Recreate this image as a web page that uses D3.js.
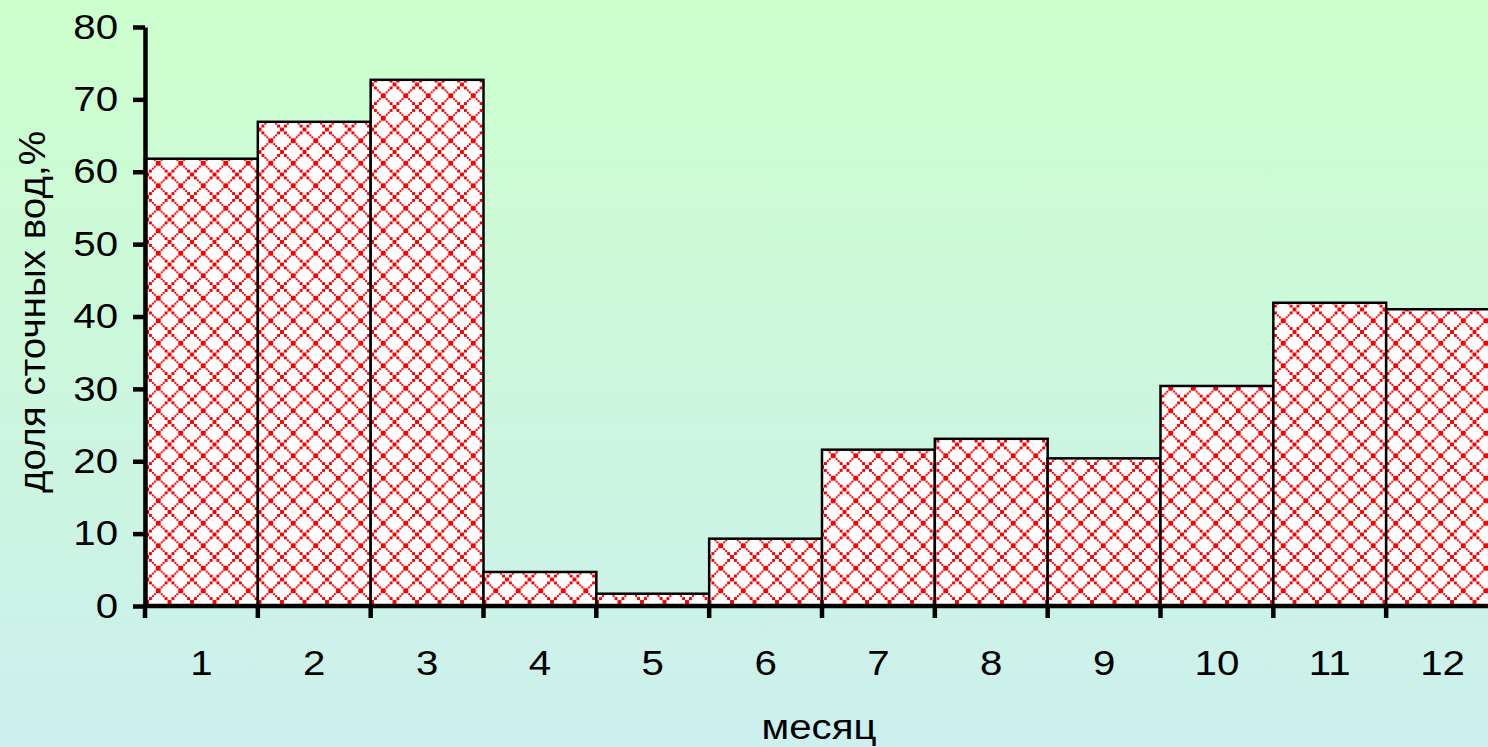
<!DOCTYPE html>
<html>
<head>
<meta charset="utf-8">
<script src="https://cdn.jsdelivr.net/npm/d3@7"></script>
<style>
  html, body { margin: 0; padding: 0; overflow: hidden; }
  svg { display: block; }
  text { font-family: "Liberation Sans", Arial, sans-serif; fill: #000; }
</style>
</head>
<body>
<svg id="chart" width="1488" height="747"></svg>
<script>
// Monthly share of wastewater, %
const months = ["1", "2", "3", "4", "5", "6", "7", "8", "9", "10", "11", "12"];
const shares = [61.8, 66.9, 72.7, 4.7, 1.7, 9.3, 21.6, 23.1, 20.4, 30.4, 41.9, 41.0];
const yTicks = [0, 10, 20, 30, 40, 50, 60, 70, 80];
const yTitle = "доля сточных вод,%";
const xTitle = "месяц";

const W = 1488, H = 747;
const plot = { left: 145, right: 1499, top: 27, bottom: 606 };
const stretch = 1.15;   // labels are set slightly wide
const labelSize = 35;

const svg = d3.select("#chart");
const defs = svg.append("defs");

// Pale green-to-cyan background
const bg = defs.append("linearGradient")
  .attr("id", "bg").attr("x1", 0).attr("y1", 0).attr("x2", 0).attr("y2", 1);
bg.append("stop").attr("offset", "0%").attr("stop-color", "#ccffcc");
bg.append("stop").attr("offset", "100%").attr("stop-color", "#ccf0ee");
svg.append("rect").attr("width", W).attr("height", H).attr("fill", "url(#bg)");

// Red dotted diamond lattice used as bar fill
const P = 22.5, step = P / 10;
const pat = defs.append("pattern")
  .attr("id", "diamond").attr("patternUnits", "userSpaceOnUse")
  .attr("width", P).attr("height", P)
  .attr("x", plot.left + 2).attr("y", plot.bottom - 4);
pat.append("rect").attr("width", P).attr("height", P).attr("fill", "#fff");
const dots = [];
for (let i = 0; i < 10; i++) {
  dots.push([i * step, i * step]);
  dots.push([i * step, P - (i + 1) * step]);
}
pat.selectAll("rect.d").data(dots).join("rect")
  .attr("class", "d")
  .attr("x", d => d[0]).attr("y", d => d[1])
  .attr("width", step).attr("height", step)
  .attr("fill", "#ff0000")
  .attr("shape-rendering", "crispEdges");

const x = d3.scaleBand().domain(months).range([plot.left, plot.right]).padding(0);
const y = d3.scaleLinear().domain([0, 80]).range([plot.bottom, plot.top]);

// Bars
svg.append("g").selectAll("rect").data(months).join("rect")
  .attr("x", d => x(d))
  .attr("y", (d, i) => y(shares[i]))
  .attr("width", x.bandwidth())
  .attr("height", (d, i) => y(0) - y(shares[i]))
  .attr("fill", "url(#diamond)")
  .attr("stroke", "#000")
  .attr("stroke-width", 2.5);

// Y axis
const yAxis = svg.append("g")
  .attr("transform", `translate(${plot.left},0)`)
  .call(d3.axisLeft(y).tickValues(yTicks).tickSize(12).tickSizeOuter(0).tickPadding(15));
yAxis.select(".domain").attr("stroke", "#000").attr("stroke-width", 4.5);
yAxis.selectAll(".tick line").attr("stroke", "#000").attr("stroke-width", 4.5);
yAxis.selectAll(".tick text")
  .attr("font-size", labelSize)
  .attr("x", -27 / stretch)
  .attr("transform", `scale(${stretch},1)`)
  .style("font-family", "'Liberation Sans', Arial, sans-serif");

// X axis: ticks sit at the band boundaries, labels in the band centres
const bounds = months.map(m => x(m)).concat([plot.right]);
const xAxisG = svg.append("g").attr("transform", `translate(0,${plot.bottom})`);
xAxisG.append("line")
  .attr("x1", plot.left - 2).attr("x2", W)
  .attr("stroke", "#000").attr("stroke-width", 4.5);
xAxisG.selectAll("line.t").data(bounds).join("line")
  .attr("class", "t")
  .attr("x1", d => d).attr("x2", d => d)
  .attr("y1", 0).attr("y2", 12)
  .attr("stroke", "#000").attr("stroke-width", 4.5);
xAxisG.selectAll("text").data(months).join("text")
  .attr("transform", d => `translate(${x(d) + x.bandwidth() / 2},69) scale(${stretch},1)`)
  .attr("text-anchor", "middle")
  .attr("font-size", labelSize)
  .text(d => d);

// Axis titles
svg.append("text")
  .attr("transform", `translate(45,312) rotate(-90)`)
  .attr("text-anchor", "middle")
  .attr("font-size", 36)
  .attr("textLength", 362)
  .attr("lengthAdjust", "spacingAndGlyphs")
  .text(yTitle);

svg.append("text")
  .attr("transform", `translate(819,739) scale(${stretch},1)`)
  .attr("text-anchor", "middle")
  .attr("font-size", labelSize)
  .text(xTitle);
</script>
</body>
</html>
